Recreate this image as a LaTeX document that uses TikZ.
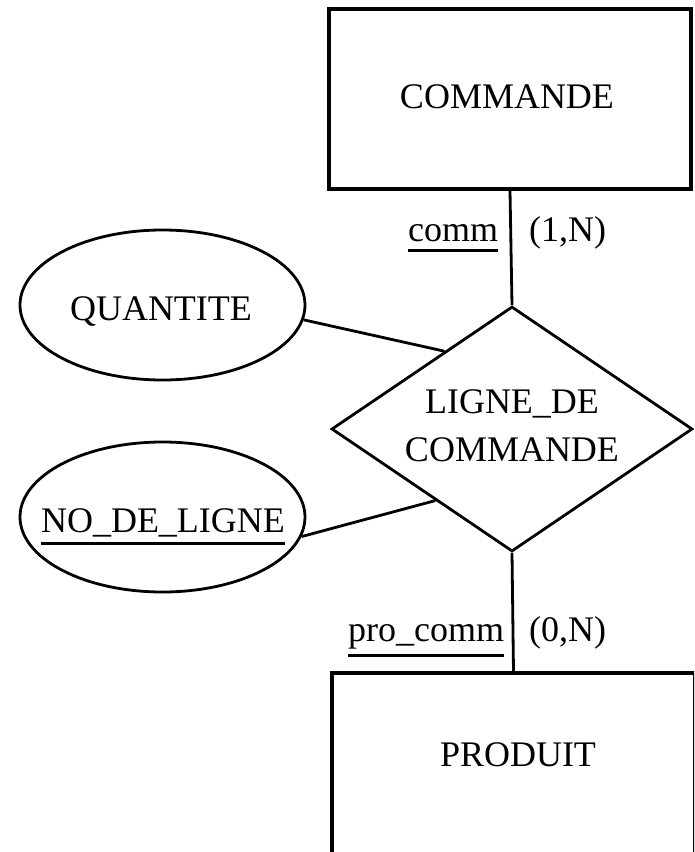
\documentclass[tikz,border=0pt]{standalone}
\usepackage{fontspec}
\setmainfont{Liberation Serif}
\usetikzlibrary{shapes.geometric}
% underlined word: optional argument is the depth of the rule below the baseline
\newcommand\ulword[2][11pt]{\setbox0=\hbox{#2}\rlap{\rule[-#1]{\wd0}{3pt}}\box0}
\begin{document}
\begin{tikzpicture}[x=1pt,y=-1pt,
  txt/.style={font=\fontsize{36}{48}\selectfont, inner sep=0pt},
  entity/.style={draw, line width=3.2pt, rectangle, inner sep=0pt},
  attrib/.style={draw, line width=2.8pt, ellipse, minimum width=285pt, minimum height=150pt, inner sep=0pt},
  relation/.style={draw, line width=2.8pt, diamond, minimum width=361pt, minimum height=245pt, inner sep=0pt},
  link/.style={line width=2.8pt},
  tag/.style={anchor=base west}]
\clip (0,0) rectangle (694,852);
% entities, association and attributes (outlines)
\node[entity, minimum width=362pt, minimum height=180pt] (cmd) at (510,99) {};
\node[relation] (rel) at (512,429) {};
\node[attrib] (qty) at (162.5,305) {};
\node[attrib] (nol) at (162.5,517) {};
\node[entity, minimum width=363pt, minimum height=230pt] (prod) at (513.5,788) {};
% names
\node[txt] (cmdname) at (507,97) {COMMANDE};
\node[txt, align=center] (relname) at (512,426) {LIGNE\_DE\\COMMANDE};
\node[txt, anchor=base] (qtyname) at (161,320) {QUANTITE};
\node[txt, anchor=base] (nolname) at (163,532) {\ulword[13pt]{NO\_DE\_LIGNE}};
\node[txt] (prodname) at (518,755) {PRODUIT};
% links
\draw[link] (cmd.south) -- (rel.north);
\draw[link] (rel.south) -- (prod.north);
\draw[link] (qty.-6) -- (rel.131);
\draw[link] (nol.-8) -- (rel.223);
% roles and cardinalities
\node[txt, tag] (role1) at (408,241) {\ulword{comm}};
\node[txt, tag] (card1) at (529,241) {(1,N)};
\node[txt, tag] (role2) at (348,641) {\ulword[16pt]{pro\_comm}};
\node[txt, tag] (card2) at (529,641) {(0,N)};
\end{tikzpicture}
\end{document}
